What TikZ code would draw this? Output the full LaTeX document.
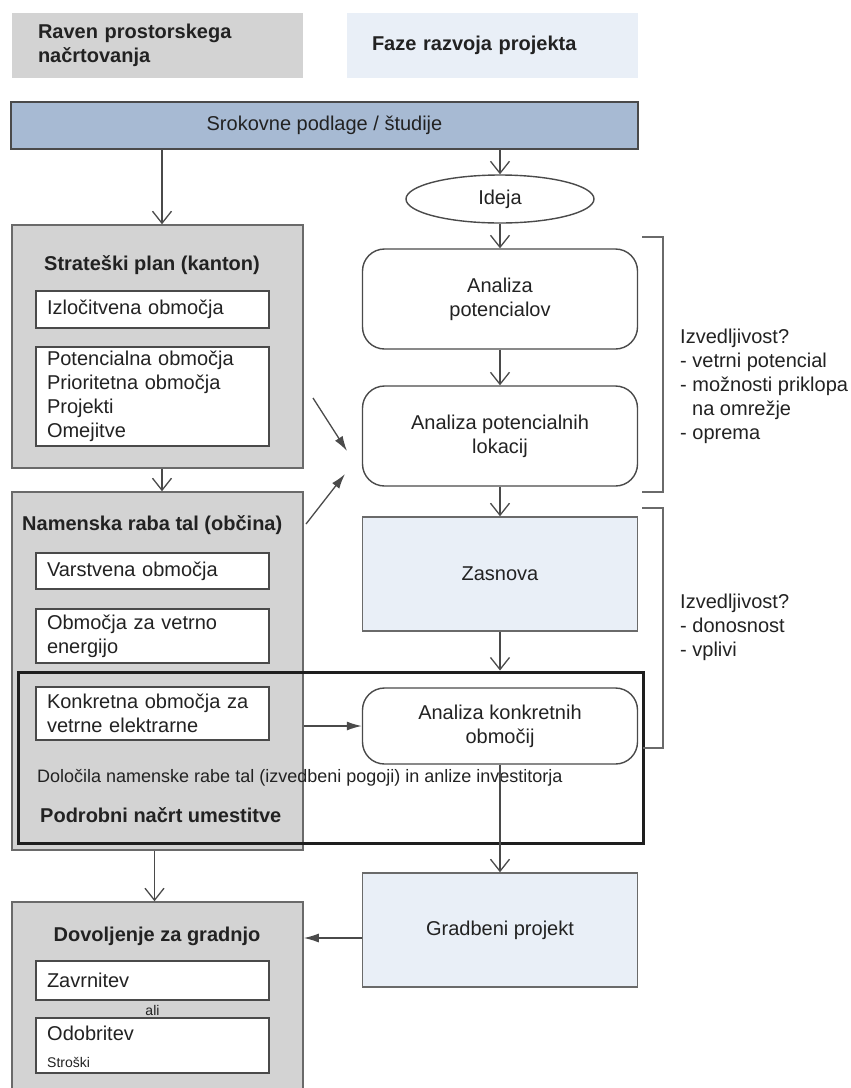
\documentclass[tikz,border=0pt]{standalone}
\usepackage{fontspec}
\setmainfont{Liberation Sans}
\usetikzlibrary{arrows.meta,shapes.geometric}
\definecolor{grayfill}{HTML}{D3D3D3}
\definecolor{lightblue}{HTML}{E9EFF7}
\definecolor{barblue}{HTML}{A7BAD3}
\definecolor{edgegray}{HTML}{6A6A6A}
\definecolor{linegray}{HTML}{4A4A4A}
\definecolor{textgray}{HTML}{222222}
\definecolor{thickline}{HTML}{1E1E1E}
\begin{document}
\begin{tikzpicture}[x=1pt,y=-1pt,
  every node/.style={text=textgray, font=\fontsize{20}{24}\selectfont},
  hdrbox/.style={minimum width=291pt, minimum height=65pt, inner ysep=0pt, inner xsep=26pt, text width=239pt, align=left, font=\fontsize{20}{24}\selectfont\bfseries},
  graybox/.style={draw=edgegray, line width=1.5pt, fill=grayfill, inner sep=0pt, minimum width=291pt},
  whitebox/.style={draw=linegray, line width=1.4pt, fill=white, inner ysep=0pt, inner xsep=11pt, text width=211pt, align=left},
  roundbox/.style={draw=linegray, line width=1.4pt, fill=white, rounded corners=22pt, minimum width=275pt, align=center, inner sep=0pt},
  bluebox/.style={draw=edgegray, line width=1.5pt, fill=lightblue, minimum width=275pt, align=center, inner sep=0pt},
  title/.style={font=\fontsize{20}{24}\selectfont\bfseries, inner sep=0pt},
  plain/.style={inner sep=0pt},
  vee/.style={draw=linegray, line width=1.3pt, -{Straight Barb[length=12pt,width=19pt]}},
  fillarr/.style={draw=linegray, line width=1.3pt, -{Latex[length=15pt,width=9pt]}},
  bracket/.style={draw=edgegray, line width=1.3pt},
]
\useasboundingbox (0,0) rectangle (851,1088);
\clip (0,0) rectangle (851,1088);

% headers
\node[hdrbox, fill=grayfill] (hdrl) at (157.5,45) {Raven prostorskega\\načrtovanja};
\node[hdrbox, fill=lightblue, inner xsep=25pt, text width=241pt] (hdrr) at (492.5,45) {Faze razvoja projekta};

% bar
\node[draw=linegray, line width=1.8pt, fill=barblue, minimum width=627pt, minimum height=47pt, inner sep=0pt] (bar) at (324.5,125.5) {Srokovne podlage / študije};

% right column
\node[ellipse, draw=linegray, line width=1.4pt, fill=white, minimum width=188pt, minimum height=48pt, inner sep=0pt] (ideja) at (500,199) {Ideja};
\node[roundbox, minimum height=100pt] (ap) at (500,299) {Analiza\\potencialov};
\node[roundbox, minimum height=100pt] (apl) at (500,436) {Analiza potencialnih\\lokacij};
\node[bluebox, minimum height=114pt] (zas) at (500,574) {Zasnova};

% left column: strateski plan
\node[graybox, minimum height=243pt] (strat) at (157.5,346.5) {};
\node[title] (stratt) at (152,265) {Strateški plan (kanton)};
\node[whitebox, minimum height=37pt] (izl) at (152.5,309.5) {Izločitvena območja};
\node[whitebox, minimum height=99pt] (pot) at (152.5,396.5) {Potencialna območja\\Prioritetna območja\\Projekti\\Omejitve};

% namenska raba
\node[graybox, minimum height=358pt] (nam) at (157.5,671) {};
\node[title, anchor=west] (namt) at (22,525) {Namenska raba tal (občina)};
\node[whitebox, minimum height=36pt] (var) at (152.5,571) {Varstvena območja};
\node[whitebox, minimum height=54pt] (obm) at (152.5,636) {Območja za vetrno\\energijo};

% podrobni nacrt frame
\node[draw=thickline, line width=3pt, minimum width=625pt, minimum height=171pt, inner sep=0pt] (pod) at (330.5,757.5) {};
\node[whitebox, minimum height=53pt] (konk) at (152.5,713.5) {Konkretna območja za\\vetrne elektrarne};
\node[roundbox, minimum height=76pt] (akon) at (500,726) {Analiza konkretnih\\območij};
\node[plain, anchor=west, font=\fontsize{18}{22}\selectfont] (dol) at (37,778) {Določila namenske rabe tal (izvedbeni pogoji) in anlize investitorja};
\node[title, anchor=west] (podt) at (40,815) {Podrobni načrt umestitve};

% bottom
\node[bluebox, minimum height=114pt] (grad) at (500,930) {Gradbeni projekt};
\node[graybox, minimum height=198pt] (dov) at (157.5,1001) {};
\node[title] (dovt) at (157,936) {Dovoljenje za gradnjo};
\node[whitebox, minimum height=39pt] (zav) at (152.5,980.5) {Zavrnitev};
\node[plain, font=\fontsize{14}{16}\selectfont] (ali) at (152.5,1010) {ali};
\node[whitebox, minimum height=55pt] (odo) at (152.5,1045.5) {};
\node[plain, anchor=west] (odot) at (47,1033) {Odobritev};
\node[plain, anchor=west, font=\fontsize{14}{16}\selectfont] (stro) at (47,1062) {Stroški};

% side notes
\node[plain, anchor=north west, align=left] (izv1) at (680,329) {Izvedljivost?\\- vetrni potencial\\- možnosti priklopa\\\hspace*{12pt}na omrežje\\- oprema};
\node[plain, anchor=north west, align=left] (izv2) at (680,594) {Izvedljivost?\\- donosnost\\- vplivi};

% brackets
\coordinate (b1a) at (642,237);
\coordinate (b1b) at (663,237);
\coordinate (b1c) at (663,492);
\coordinate (b1d) at (642,492);
\draw[bracket] (b1a) -- (b1b) -- (b1c) -- (b1d);
\coordinate (b2a) at (642,508);
\coordinate (b2b) at (663,508);
\coordinate (b2c) at (663,748);
\coordinate (b2d) at (643,748);
\draw[bracket] (b2a) -- (b2b) -- (b2c) -- (b2d);

% connectors
\draw[vee] ([xshift=4.5pt]bar.south -| strat.north) -- ([xshift=4.5pt]strat.north);
\draw[vee] (bar.south -| ideja.north) -- (ideja.north);
\draw[vee] (ideja.south) -- (ap.north);
\draw[vee] (ap.south) -- (apl.north);
\draw[vee] (apl.south) -- (zas.north);
\draw[vee] (zas.south) -- (zas.south |- pod.north);
\draw[vee] (akon.south) -- (grad.north);
\draw[vee] ([xshift=4.5pt]strat.south) -- ([xshift=4.5pt]nam.north);
\draw[vee] ([xshift=-3pt]nam.south) -- ([xshift=-3pt]dov.north);
\draw[fillarr] (akon.west -| nam.east) -- (akon.west);
\draw[fillarr] ([yshift=-8pt]grad.west) -- ([yshift=-8pt]grad.west -| dov.east);

\coordinate (d1a) at (313,398);
\coordinate (d1b) at (347,451);
\coordinate (d2a) at (306,524);
\coordinate (d2b) at (345,474);
\draw[fillarr] (d1a) -- (d1b);
\draw[fillarr] (d2a) -- (d2b);
\end{tikzpicture}
\end{document}
